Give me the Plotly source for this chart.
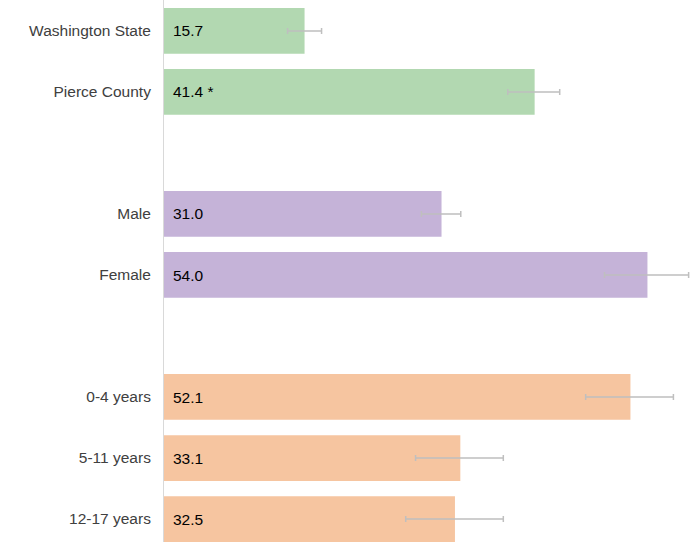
import plotly.graph_objects as go

categories = ["Washington State", "Pierce County", "", "Male", "Female", " ", "0-4 years", "5-11 years", "12-17 years"]
values = [15.7, 41.4, None, 31.0, 54.0, None, 52.1, 33.1, 32.5]
labels = ["15.7", "41.4 *", "", "31.0", "54.0", "", "52.1", "33.1", "32.5"]
ci_low = [13.8, 38.4, None, 28.75, 49.2, None, 47.1, 28.1, 27.0]
ci_high = [17.6, 44.2, None, 33.15, 58.6, None, 56.9, 37.9, 37.9]
colors = ["#b2d8b1", "#b2d8b1", "#ffffff", "#c5b3d8", "#c5b3d8", "#ffffff", "#f6c5a0", "#f6c5a0", "#f6c5a0"]

pos = list(range(len(categories)))
xs, ys, cols, txt, ep, em = [], [], [], [], [], []
for i, v in enumerate(values):
    if v is None:
        continue
    xs.append(v)
    ys.append(pos[i])
    cols.append(colors[i])
    txt.append(labels[i])
    ep.append(ci_high[i] - v)
    em.append(v - ci_low[i])

fig = go.Figure(go.Bar(
    x=xs, y=ys, orientation="h", width=0.75,
    marker=dict(color=cols, line=dict(width=0)),
    error_x=dict(type="data", symmetric=False, array=ep, arrayminus=em,
                 color="#bfbfbf", thickness=1.5, width=3),
    hoverinfo="skip",
))

for y, t in zip(ys, txt):
    fig.add_annotation(x=0, y=y, text=t, xanchor="left", yanchor="middle", xshift=7,
                       showarrow=False,
                       font=dict(family="Liberation Sans, Arial", size=15.5, color="#000000"))

tick_pos = [p for p, c in zip(pos, categories) if c.strip()]
tick_txt = [c for c in categories if c.strip()]

fig.update_layout(
    width=694, height=542,
    margin=dict(l=164, r=0, t=0, b=0),
    plot_bgcolor="white", paper_bgcolor="white",
    showlegend=False,
    xaxis=dict(range=[0, 59.2], showgrid=False, zeroline=False, showticklabels=False,
               showline=False),
    yaxis=dict(range=[8.377, -0.508], tickvals=tick_pos, ticktext=tick_txt,
               showgrid=False, zeroline=False, showline=True, linecolor="#d9d9d9",
               linewidth=1, ticks="", ticklabelstandoff=9,
               tickfont=dict(family="Liberation Sans, Arial", size=15.5, color="#404040")),
)

fig.write_html("out.html", config={"displayModeBar": False},
               post_script="document.body.style.margin='0';")
